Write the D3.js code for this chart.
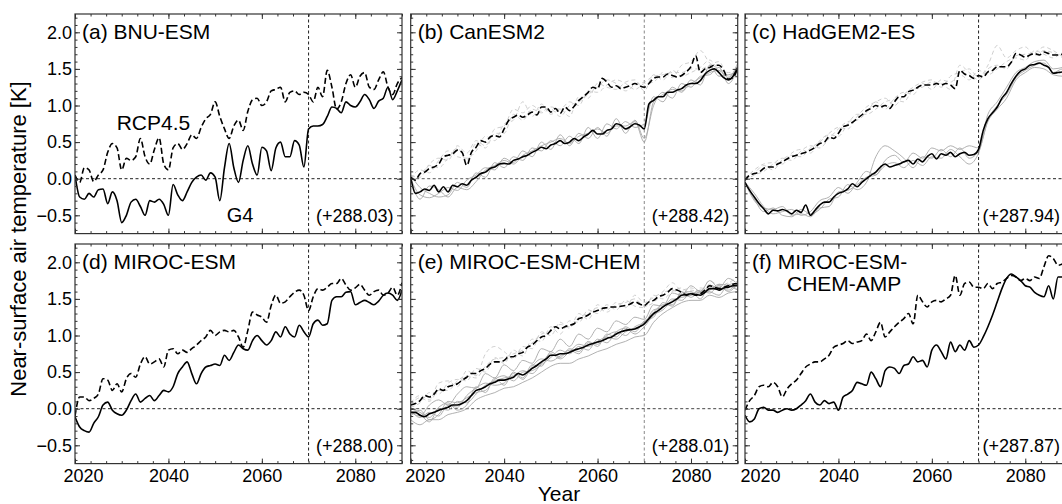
<!DOCTYPE html>
<html><head><meta charset="utf-8">
<script src="https://cdn.jsdelivr.net/npm/d3@7"></script>
<style>html,body{margin:0;padding:0;background:#fff;} svg{display:block;font-family:"Liberation Sans",Arial,Helvetica,sans-serif;}</style>
</head><body>
<svg id="chart" width="1062" height="504"></svg>
<script>
// ---------------- DATA ----------------
const years = d3.range(2020, 2091);          // annual, 2020..2090
const memberYears = d3.range(2020, 2091, 2); // ensemble members read every 2 years

const panelTitles = [["(a) BNU-ESM"], ["(b) CanESM2"], ["(c) HadGEM2-ES"],
                     ["(d) MIROC-ESM"], ["(e) MIROC-ESM-CHEM"], ["(f) MIROC-ESM-", "CHEM-AMP"]];
const baselineLabels = ["(+288.03)", "(+288.42)", "(+287.94)", "(+288.00)", "(+288.01)", "(+287.87)"];
const xTickValues = [2020, 2040, 2060, 2080];
const yTickValues = [-0.5, 0.0, 0.5, 1.0, 1.5, 2.0];
const yTitle = "Near-surface air temperature [K]";
const xTitle = "Year";
const seriesNames = ["RCP4.5", "G4"];

// (a) BNU-ESM
const rcp_a = [0.05,-0.05,0.15,0.12,-0.04,0.05,0.12,0.36,0.48,0.42,
  0.12,0.28,0.25,0.30,0.55,0.30,0.20,0.40,0.56,0.20,
  0.12,0.42,0.48,0.40,0.48,0.60,0.55,0.70,0.82,0.88,
  1.05,0.85,0.68,0.55,0.72,0.80,0.66,0.92,1.08,1.10,
  1.00,1.05,1.20,1.22,1.25,1.05,1.18,1.20,1.15,1.18,
  1.15,1.05,1.25,1.12,1.48,1.25,0.95,1.05,1.30,1.42,
  1.25,1.40,1.45,1.25,1.22,1.35,1.46,1.25,1.15,1.30,
  1.38];
const g4_a = [0.05,-0.25,-0.28,-0.20,-0.25,-0.15,-0.14,-0.34,-0.18,-0.30,
  -0.60,-0.50,-0.32,-0.28,-0.38,-0.50,-0.30,-0.32,-0.28,-0.35,
  -0.50,-0.08,-0.22,-0.30,-0.18,-0.05,0.02,0.05,-0.02,0.08,
  0.02,-0.30,0.15,0.48,0.15,-0.05,0.25,0.45,0.20,0.05,
  0.43,0.38,0.11,0.42,0.50,0.30,0.30,0.52,0.46,0.16,
  0.68,0.72,0.72,0.74,0.85,0.98,0.96,0.90,1.05,1.00,
  0.98,1.05,1.15,1.08,0.96,1.06,1.10,1.25,1.08,1.20,
  1.35];

// (b) CanESM2
const rcp_b = [0.02,-0.02,0.07,0.09,0.14,0.16,0.20,0.30,0.32,0.34,
  0.39,0.36,0.18,0.36,0.43,0.52,0.50,0.57,0.59,0.57,
  0.68,0.80,0.84,0.87,0.84,0.87,0.91,0.87,0.98,0.98,
  0.91,0.96,0.89,0.98,0.93,0.99,1.07,1.12,1.18,1.25,
  1.23,1.37,1.32,1.25,1.27,1.23,1.25,1.27,1.30,1.27,
  1.25,1.30,1.37,1.39,1.39,1.43,1.41,1.39,1.41,1.46,
  1.53,1.68,1.45,1.50,1.52,1.55,1.55,1.48,1.36,1.38,
  1.52];
const g4_b = [0.02,-0.20,-0.18,-0.14,-0.16,-0.09,-0.18,-0.11,-0.18,-0.09,
  -0.11,-0.07,-0.09,-0.02,0.02,0.07,0.09,0.14,0.16,0.20,
  0.21,0.20,0.25,0.27,0.30,0.32,0.36,0.39,0.43,0.41,
  0.46,0.48,0.52,0.48,0.50,0.55,0.52,0.57,0.61,0.66,
  0.61,0.61,0.66,0.68,0.75,0.73,0.68,0.71,0.75,0.73,
  0.68,1.02,1.07,1.12,1.12,1.18,1.18,1.21,1.23,1.28,
  1.30,1.30,1.34,1.43,1.48,1.50,1.45,1.38,1.35,1.40,
  1.52];
const g4Members_b = [
  [0.00,-0.22,-0.26,-0.20,-0.12,-0.16,-0.02,0.05,0.15,0.12,0.28,0.22,0.38,0.30,0.50,0.40,0.60,0.45,0.62,0.55,0.70,0.58,0.82,0.62,0.80,0.55,1.00,1.18,1.10,1.30,1.25,1.40,1.42,1.52,1.30,1.50],
  [0.05,-0.12,-0.20,-0.25,-0.22,-0.05,-0.12,0.08,0.02,0.22,0.15,0.30,0.25,0.42,0.38,0.52,0.45,0.58,0.48,0.70,0.55,0.75,0.68,0.78,0.70,0.75,1.12,1.05,1.25,1.18,1.35,1.28,1.55,1.40,1.42,1.45],
  [0.00,-0.28,-0.10,-0.15,-0.25,-0.12,-0.15,-0.04,0.12,0.18,0.25,0.20,0.32,0.38,0.45,0.50,0.55,0.48,0.58,0.62,0.68,0.62,0.72,0.72,0.78,0.50,1.05,1.15,1.22,1.20,1.30,1.38,1.45,1.48,1.38,1.58]];
const rcpMembers_b = [
  [0.05,0.02,0.20,0.28,0.25,0.45,0.35,0.52,0.45,0.68,0.72,0.95,0.90,1.00,0.92,0.98,0.95,1.05,1.00,1.20,1.18,1.28,1.35,1.30,1.22,1.30,1.32,1.45,1.38,1.55,1.60,1.75,1.58,1.50,1.45,1.48],
  [0.00,0.12,0.08,0.25,0.38,0.30,0.28,0.38,0.58,0.52,0.75,0.80,1.05,0.85,1.02,0.88,0.95,0.85,1.12,1.10,1.30,1.25,1.22,1.32,1.35,1.20,1.42,1.35,1.48,1.40,1.45,1.52,1.62,1.48,1.40,1.55],
  [0.02,0.05,0.18,0.15,0.28,0.42,0.25,0.48,0.42,0.62,0.62,0.88,0.80,0.95,0.90,0.95,0.85,1.00,1.05,1.15,1.25,1.35,1.30,1.20,1.28,1.32,1.40,1.42,1.45,1.45,1.50,1.50,1.55,1.60,1.40,1.42]];

// (c) HadGEM2-ES
const rcp_c = [-0.02,0.05,0.07,0.09,0.14,0.16,0.16,0.20,0.23,0.27,
  0.30,0.32,0.34,0.36,0.39,0.43,0.48,0.50,0.57,0.55,
  0.62,0.71,0.73,0.77,0.82,0.87,0.93,0.96,1.00,0.98,
  1.00,0.96,1.05,1.12,1.12,1.19,1.21,1.25,1.28,1.28,
  1.28,1.30,1.28,1.30,1.28,1.23,1.48,1.43,1.41,1.37,
  1.41,1.39,1.46,1.48,1.53,1.53,1.53,1.59,1.71,1.69,
  1.66,1.69,1.71,1.69,1.73,1.71,1.69,1.69,1.70,1.68,
  1.70];
const g4_c = [-0.05,-0.16,-0.25,-0.34,-0.41,-0.48,-0.43,-0.44,-0.42,-0.44,
  -0.48,-0.43,-0.46,-0.36,-0.50,-0.43,-0.36,-0.32,-0.32,-0.25,
  -0.20,-0.18,-0.14,-0.07,-0.11,-0.05,0.00,0.05,0.09,0.16,
  0.20,0.16,0.18,0.20,0.23,0.25,0.20,0.27,0.23,0.30,
  0.34,0.27,0.34,0.32,0.36,0.30,0.34,0.36,0.32,0.33,
  0.40,0.66,0.82,0.90,0.98,1.10,1.18,1.30,1.40,1.47,
  1.50,1.55,1.56,1.58,1.55,1.52,1.44,1.45,1.46,1.48,
  1.50];
const g4Members_c = [
  [-0.05,-0.20,-0.38,-0.48,-0.45,-0.42,-0.50,-0.45,-0.30,-0.25,-0.12,-0.20,-0.05,0.10,0.05,0.25,0.32,0.22,0.35,0.28,0.42,0.38,0.45,0.40,0.45,0.42,0.88,1.05,1.25,1.45,1.52,1.60,1.62,1.50,1.52,1.55],
  [-0.05,-0.28,-0.45,-0.40,-0.50,-0.52,-0.42,-0.48,-0.42,-0.28,-0.25,-0.08,-0.15,-0.05,0.30,0.45,0.38,0.28,0.15,0.30,0.28,0.40,0.30,0.42,0.28,0.38,0.78,0.95,1.10,1.35,1.45,1.52,1.50,1.42,1.40,1.45],
  [-0.05,-0.30,-0.40,-0.42,-0.38,-0.50,-0.48,-0.52,-0.40,-0.38,-0.18,-0.16,-0.08,0.02,0.05,0.18,0.22,0.15,0.25,0.18,0.30,0.28,0.40,0.30,0.20,0.35,0.80,1.00,1.15,1.38,1.48,1.55,1.58,1.45,1.50,1.48]];
const rcpMembers_c = [
  [0.00,0.12,0.20,0.22,0.20,0.35,0.40,0.35,0.52,0.62,0.70,0.68,0.85,0.98,1.05,1.10,1.00,1.15,1.25,1.32,1.35,1.25,1.40,1.45,1.50,1.38,1.55,1.82,1.65,1.75,1.80,1.68,1.75,1.72,1.66,1.75],
  [-0.02,0.05,0.10,0.20,0.28,0.25,0.38,0.45,0.42,0.55,0.68,0.78,0.80,0.90,1.05,0.95,1.10,1.18,1.15,1.30,1.22,1.35,1.32,1.42,1.35,1.48,1.42,1.50,1.60,1.65,1.62,1.75,1.70,1.65,1.72,1.68],
  [0.02,0.08,0.18,0.12,0.26,0.32,0.30,0.42,0.50,0.60,0.58,0.75,0.88,0.88,0.95,1.05,1.08,1.05,1.22,1.25,1.32,1.30,1.22,1.55,1.45,1.35,1.50,1.55,1.50,1.68,1.70,1.72,1.80,1.75,1.68,1.72]];

// (d) MIROC-ESM
const rcp_d = [-0.10,0.16,0.16,0.11,0.14,0.20,0.41,0.39,0.25,0.34,
  0.23,0.41,0.48,0.43,0.61,0.71,0.61,0.64,0.68,0.57,
  0.80,0.82,0.75,0.80,0.77,0.82,0.87,0.93,0.98,1.07,
  1.00,1.05,1.07,1.05,1.07,0.98,0.84,1.07,1.32,1.28,
  1.25,1.18,1.41,1.55,1.44,1.46,1.53,1.59,1.62,1.55,
  1.34,1.53,1.64,1.62,1.66,1.71,1.71,1.78,1.69,1.62,
  1.65,1.70,1.62,1.55,1.60,1.62,1.55,1.58,1.66,1.55,
  1.72];
const g4_d = [-0.11,-0.25,-0.30,-0.32,-0.20,-0.11,0.05,0.09,-0.02,-0.07,
  -0.09,-0.02,0.11,0.20,0.09,0.14,0.18,0.11,0.18,0.25,
  0.23,0.30,0.48,0.57,0.64,0.48,0.34,0.48,0.57,0.59,
  0.61,0.59,0.73,0.66,0.77,0.87,0.82,0.80,0.93,1.00,
  0.93,0.87,0.93,1.05,0.98,1.12,1.02,0.98,1.14,1.05,
  0.98,1.16,1.21,1.14,1.16,1.48,1.53,1.53,1.59,1.60,
  1.42,1.45,1.48,1.45,1.42,1.47,1.55,1.58,1.55,1.48,
  1.62];

// (e) MIROC-ESM-CHEM
const rcp_e = [0.05,0.07,0.11,0.18,0.16,0.20,0.27,0.25,0.30,0.32,
  0.34,0.39,0.43,0.48,0.48,0.52,0.55,0.61,0.64,0.64,
  0.66,0.71,0.71,0.75,0.77,0.84,0.87,0.93,0.98,1.00,
  1.07,1.12,1.09,1.12,1.14,1.16,1.23,1.25,1.28,1.32,
  1.34,1.37,1.38,1.39,1.39,1.40,1.41,1.43,1.46,1.43,
  1.41,1.46,1.48,1.53,1.55,1.59,1.64,1.62,1.59,1.55,
  1.57,1.55,1.57,1.62,1.68,1.66,1.64,1.66,1.68,1.70,
  1.72];
const g4_e = [-0.05,-0.05,-0.09,-0.11,-0.07,-0.05,-0.02,0.00,0.02,0.05,
  0.05,0.07,0.11,0.18,0.25,0.27,0.30,0.34,0.36,0.39,
  0.39,0.41,0.43,0.48,0.46,0.50,0.55,0.59,0.64,0.68,
  0.73,0.73,0.75,0.75,0.77,0.80,0.82,0.84,0.87,0.89,
  0.91,0.93,0.96,0.98,1.02,1.05,1.07,1.08,1.09,1.12,
  1.16,1.23,1.30,1.34,1.39,1.43,1.46,1.50,1.55,1.56,
  1.57,1.56,1.55,1.59,1.64,1.64,1.62,1.65,1.66,1.68,
  1.68];
const g4Members_e = [
  [-0.05,-0.10,0.05,0.12,0.05,0.20,0.30,0.28,0.48,0.42,0.60,0.52,0.66,0.62,0.82,0.78,0.95,0.85,1.02,0.95,1.10,1.05,1.20,1.15,1.25,1.22,1.42,1.40,1.58,1.55,1.68,1.60,1.75,1.65,1.78,1.70],
  [0.00,-0.05,-0.12,0.02,0.08,-0.02,0.05,0.30,0.22,0.42,0.32,0.50,0.42,0.60,0.58,0.78,0.70,0.82,0.78,0.92,0.85,1.02,0.98,1.12,1.05,1.20,1.25,1.45,1.40,1.60,1.52,1.60,1.58,1.68,1.60,1.72],
  [-0.10,-0.02,-0.15,-0.08,0.10,0.08,0.15,0.22,0.25,0.40,0.45,0.38,0.50,0.52,0.60,0.70,0.80,0.75,0.85,0.80,0.95,0.90,1.05,1.10,1.02,1.12,1.28,1.35,1.48,1.52,1.55,1.62,1.60,1.55,1.70,1.62],
  [-0.02,-0.12,-0.05,-0.10,0.05,0.02,0.18,0.28,0.35,0.32,0.35,0.48,0.40,0.58,0.68,0.65,0.72,0.80,0.75,0.90,0.88,1.00,1.05,1.00,1.12,1.18,1.32,1.42,1.42,1.58,1.60,1.50,1.68,1.65,1.62,1.75],
  [-0.05,-0.08,-0.18,0.00,-0.02,0.10,0.08,0.20,0.32,0.38,0.42,0.45,0.52,0.48,0.62,0.75,0.68,0.78,0.88,0.85,0.92,0.98,0.95,1.05,1.10,1.15,1.35,1.38,1.50,1.48,1.58,1.58,1.62,1.70,1.68,1.62],
  [-0.15,-0.22,-0.15,-0.15,-0.08,-0.05,0.00,0.12,0.18,0.22,0.28,0.30,0.36,0.42,0.50,0.58,0.62,0.62,0.68,0.72,0.78,0.82,0.88,0.92,0.98,1.00,1.18,1.30,1.38,1.45,1.48,1.48,1.55,1.52,1.58,1.60]];
const rcpMembers_e = [
  [0.08,0.18,0.12,0.35,0.38,0.30,0.52,0.45,0.75,0.85,0.78,0.68,0.85,0.82,1.05,1.00,1.18,1.10,1.30,1.22,1.42,1.35,1.45,1.38,1.55,1.45,1.52,1.60,1.72,1.62,1.65,1.60,1.75,1.68,1.72,1.80],
  [0.02,0.08,0.22,0.20,0.35,0.40,0.38,0.55,0.50,0.70,0.62,0.80,0.72,0.95,0.92,1.12,1.02,1.20,1.18,1.35,1.30,1.42,1.35,1.48,1.40,1.38,1.55,1.50,1.60,1.65,1.55,1.65,1.62,1.70,1.65,1.75],
  [0.05,0.15,0.10,0.25,0.25,0.38,0.45,0.42,0.58,0.68,0.70,0.75,0.80,0.90,1.02,1.05,1.15,1.12,1.25,1.30,1.38,1.32,1.42,1.45,1.50,1.40,1.45,1.58,1.62,1.55,1.62,1.58,1.70,1.62,1.72,1.68]];

// (f) MIROC-ESM-CHEM-AMP
const rcp_f = [-0.02,0.11,0.18,0.30,0.32,0.30,0.36,0.30,0.16,0.27,
  0.34,0.39,0.48,0.57,0.61,0.64,0.64,0.68,0.73,0.84,
  0.87,0.89,0.93,0.89,0.91,0.93,1.02,0.93,1.05,1.18,
  0.98,1.05,1.12,1.18,1.23,1.30,1.16,1.55,1.46,1.39,
  1.46,1.48,1.46,1.50,1.55,1.82,1.55,1.71,1.73,1.66,
  1.66,1.64,1.71,1.64,1.71,1.73,1.78,1.82,1.80,1.75,
  1.78,1.75,1.80,1.78,1.94,2.09,2.05,1.96,1.98,2.05,
  2.02];
const g4_f = [-0.09,-0.18,-0.14,0.00,0.02,-0.02,-0.02,-0.05,-0.02,0.00,
  -0.02,0.00,0.05,0.11,0.20,0.09,0.05,0.11,0.07,0.09,
  -0.02,0.16,0.20,0.25,0.36,0.34,0.32,0.50,0.41,0.30,
  0.52,0.57,0.55,0.48,0.59,0.61,0.71,0.64,0.66,0.57,
  0.80,0.87,0.78,0.68,0.91,0.78,0.87,0.80,0.93,0.84,
  0.87,0.98,1.12,1.28,1.46,1.64,1.78,1.84,1.80,1.75,
  1.68,1.66,1.59,1.55,1.53,1.68,1.50,1.80,1.80,1.65,
  1.85];

const panels = [
  {rcp: rcp_a, g4: g4_a, g4M: [], rcpM: []},
  {rcp: rcp_b, g4: g4_b, g4M: g4Members_b, rcpM: rcpMembers_b},
  {rcp: rcp_c, g4: g4_c, g4M: g4Members_c, rcpM: rcpMembers_c},
  {rcp: rcp_d, g4: g4_d, g4M: [], rcpM: []},
  {rcp: rcp_e, g4: g4_e, g4M: g4Members_e, rcpM: rcpMembers_e},
  {rcp: rcp_f, g4: g4_f, g4M: [], rcpM: []}
];

// ---------------- LAYOUT ----------------
const W = 327, H = 219.6;
const lefts = [75, 410.7, 745], tops = [14, 244];
const firstLabelShift = [8, 14, 15];
const rightPad = [8.5, 8.5, 12];
const refH = ["#222", "#555", "#222", "#222", "#444", "#222"];
const refV = ["#222", "#888", "#222", "#222", "#888", "#222"];

const svg = d3.select("#chart");
const x = d3.scaleLinear().domain([2020, 2090]).range([0, W]);
const y = d3.scaleLinear().domain([-0.75, 2.25]).range([H, 0]);

svg.append("defs").append("clipPath").attr("id", "clip")
  .append("rect").attr("x", 0).attr("y", 0).attr("width", W).attr("height", H);

const line = (xs) => d3.line().x((d, i) => x(xs[i])).y(d => y(d)).curve(d3.curveMonotoneX);
const mainLine = line(years), memLine = line(memberYears);

const xMinor = d3.range(2020, 2090.01, 20 / 6);
const yMinor = d3.range(-7, 23).map(k => k / 10);
const fmtY = d => (d < 0 ? "\u2212" : "") + Math.abs(d).toFixed(1);

panels.forEach((p, i) => {
  const col = i % 3, row = Math.floor(i / 3);
  const g = svg.append("g").attr("transform", `translate(${lefts[col]},${tops[row]})`);
  const plot = g.append("g").attr("clip-path", "url(#clip)");

  // reference lines
  plot.append("line").attr("x1", 0).attr("x2", W).attr("y1", y(0)).attr("y2", y(0))
    .attr("stroke", refH[i]).attr("stroke-width", 1).attr("stroke-dasharray", "3,2.5");
  plot.append("line").attr("x1", x(2070)).attr("x2", x(2070)).attr("y1", 0).attr("y2", H)
    .attr("stroke", refV[i]).attr("stroke-width", 1).attr("stroke-dasharray", "3,2.5");

  // ensemble members
  p.rcpM.forEach(m => plot.append("path").attr("d", memLine(m)).attr("fill", "none")
    .attr("stroke", "#c8c8c8").attr("stroke-width", 0.9).attr("stroke-dasharray", "4,3"));
  p.g4M.forEach(m => plot.append("path").attr("d", memLine(m)).attr("fill", "none")
    .attr("stroke", "#a8a8a8").attr("stroke-width", 0.9));

  // main series
  plot.append("path").attr("d", mainLine(p.rcp)).attr("fill", "none")
    .attr("stroke", "#000").attr("stroke-width", 1.6).attr("stroke-dasharray", "6,3");
  plot.append("path").attr("d", mainLine(p.g4)).attr("fill", "none")
    .attr("stroke", "#000").attr("stroke-width", 1.6);

  // axes (ticks inward on all sides)
  const tickStyle = sel => { sel.select(".domain").remove(); sel.selectAll("line").attr("stroke", "#333"); };
  const bottom = g.append("g").attr("transform", `translate(0,${H})`)
    .call(d3.axisBottom(x).tickValues(xTickValues).tickSize(-5).tickPadding(6)
      .tickFormat(row === 1 ? d3.format("d") : ""));
  tickStyle(bottom);
  bottom.selectAll("text").attr("font-size", 18).attr("fill", "#000")
    .attr("font-family", "Liberation Sans, Arial, sans-serif")
    .attr("dx", d => d === 2020 ? firstLabelShift[col] : 0);
  g.append("g").attr("transform", `translate(0,${H})`)
    .call(d3.axisBottom(x).tickValues(xMinor).tickSize(-2.5).tickFormat("")).call(tickStyle);
  g.append("g").call(d3.axisTop(x).tickValues(xTickValues).tickSize(-5).tickFormat("")).call(tickStyle);
  g.append("g").call(d3.axisTop(x).tickValues(xMinor).tickSize(-2.5).tickFormat("")).call(tickStyle);

  const left = g.append("g")
    .call(d3.axisLeft(y).tickValues(yTickValues).tickSize(-5).tickPadding(3)
      .tickFormat(col === 0 ? fmtY : ""));
  tickStyle(left);
  left.selectAll("text").attr("font-size", 18).attr("fill", "#000")
    .attr("font-family", "Liberation Sans, Arial, sans-serif");
  g.append("g").call(d3.axisLeft(y).tickValues(yMinor).tickSize(-2.5).tickFormat("")).call(tickStyle);
  g.append("g").attr("transform", `translate(${W},0)`)
    .call(d3.axisRight(y).tickValues(yTickValues).tickSize(-5).tickFormat("")).call(tickStyle);
  g.append("g").attr("transform", `translate(${W},0)`)
    .call(d3.axisRight(y).tickValues(yMinor).tickSize(-2.5).tickFormat("")).call(tickStyle);

  // frame
  g.append("rect").attr("x", 0).attr("y", 0).attr("width", W).attr("height", H)
    .attr("fill", "none").attr("stroke", "#333").attr("stroke-width", 1.2);

  // panel title
  const t = g.append("text").attr("font-size", 21).attr("fill", "#000");
  panelTitles[i].forEach((s, k) => t.append("tspan")
    .attr("x", k === 0 ? 7 : 42).attr("y", 25 + k * 22).text(s));

  // baseline temperature
  g.append("text").attr("x", W - rightPad[col]).attr("y", H - 12)
    .attr("text-anchor", "end").attr("font-size", 18).text(baselineLabels[i]);

  if (i === 0) {
    g.append("text").attr("x", 41.7).attr("y", 116).attr("font-size", 21).text(seriesNames[0]);
    g.append("text").attr("x", 151.7).attr("y", 207.7).attr("font-size", 20).text(seriesNames[1]);
  }
});

svg.append("text").attr("transform", "translate(26,239) rotate(-90)")
  .attr("text-anchor", "middle").attr("font-size", 22).text(yTitle);
svg.append("text").attr("x", 559).attr("y", 501)
  .attr("text-anchor", "middle").attr("font-size", 21).text(xTitle);
</script>
</body></html>
